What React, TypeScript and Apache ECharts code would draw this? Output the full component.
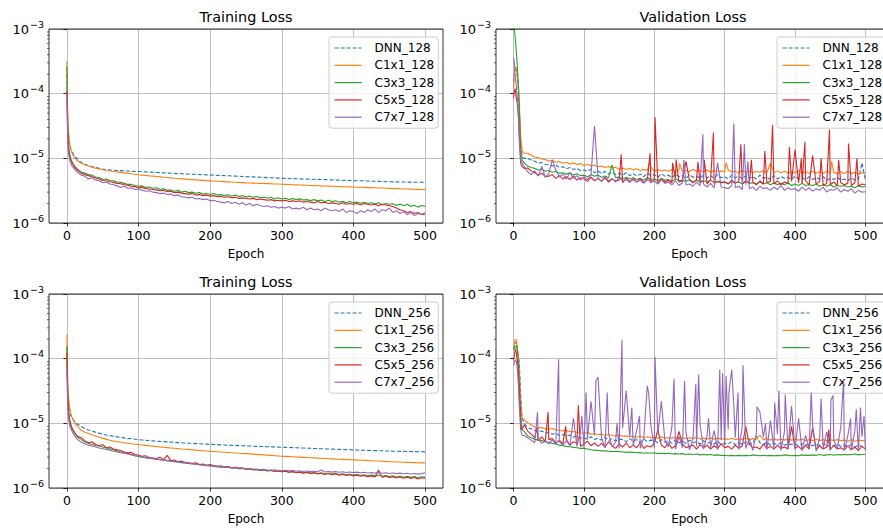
import React, { useEffect, useRef } from 'react';
import * as echarts from 'echarts';

// ---------- data (values in units of 1e-6) ----------
const EARLY_EPOCHS = [0, 1, 2, 3, 4, 5, 6, 7, 8, 10, 12, 15];
const EPOCHS = [...EARLY_EPOCHS, ...Array.from({ length: 97 }, (_, i) => 20 + 5 * i)];
const X_TICKS = [0, 100, 200, 300, 400, 500];
const MINOR_Y_TICKS = [2e-6, 3e-6, 4e-6, 5e-6, 6e-6, 7e-6, 8e-6, 9e-6, 2e-5, 3e-5, 4e-5, 5e-5, 6e-5, 7e-5, 8e-5, 9e-5, 2e-4, 3e-4, 4e-4, 5e-4, 6e-4, 7e-4, 8e-4, 9e-4];
const MODELS = ['DNN', 'C1x1', 'C3x3', 'C5x5', 'C7x7'];
const PANEL_TITLES = ['Training Loss', 'Validation Loss', 'Training Loss', 'Validation Loss'];
const PANEL_WIDTHS = ['128', '128', '256', '256'];

// Training loss, width 128
const TL_DNN = [200, 40, 25, 19, 16, 14.5, 13.5, 12.8, 12.2, 11.2, 10.5, 9.8,
  8.6, 8.1, 7.75, 7.45, 7.2, 7.0, 6.85, 6.72, 6.62, 6.55,
  6.5, 6.45, 6.4, 6.36, 6.32, 6.28, 6.25, 6.21, 6.17, 6.13,
  6.08, 6.04, 6.0, 5.96, 5.92, 5.88, 5.84, 5.8, 5.77, 5.74,
  5.71, 5.68, 5.64, 5.61, 5.58, 5.55, 5.52, 5.49, 5.46, 5.43,
  5.4, 5.37, 5.34, 5.31, 5.28, 5.25, 5.22, 5.19, 5.16, 5.13,
  5.1, 5.07, 5.04, 5.01, 4.98, 4.95, 4.92, 4.9, 4.88, 4.86,
  4.84, 4.82, 4.8, 4.78, 4.76, 4.74, 4.72, 4.7, 4.68, 4.66,
  4.64, 4.62, 4.6, 4.58, 4.56, 4.54, 4.53, 4.51, 4.49, 4.47,
  4.45, 4.43, 4.42, 4.4, 4.38, 4.36, 4.35, 4.33, 4.32, 4.31,
  4.3, 4.29, 4.28, 4.27, 4.27, 4.26, 4.25];
const TL_C1 = [320, 60, 29, 20, 16.5, 14.2, 13, 12.2, 11.5, 10.5, 9.8, 9.1,
  8.4, 7.95, 7.6, 7.3, 7.05, 6.85, 6.65, 6.5, 6.38, 6.27,
  6.17, 6.06, 5.96, 5.86, 5.77, 5.68, 5.58, 5.5, 5.43, 5.36,
  5.3, 5.24, 5.17, 5.1, 5.04, 4.98, 4.92, 4.87, 4.82, 4.77,
  4.72, 4.68, 4.64, 4.6, 4.56, 4.52, 4.48, 4.45, 4.42, 4.39,
  4.36, 4.33, 4.3, 4.27, 4.24, 4.21, 4.18, 4.16, 4.14, 4.12,
  4.1, 4.08, 4.06, 4.04, 4.02, 4.0, 3.97, 3.95, 3.93, 3.91,
  3.89, 3.87, 3.85, 3.83, 3.81, 3.79, 3.77, 3.75, 3.73, 3.72,
  3.7, 3.68, 3.67, 3.65, 3.64, 3.62, 3.6, 3.58, 3.57, 3.55,
  3.53, 3.52, 3.5, 3.48, 3.47, 3.45, 3.43, 3.41, 3.4, 3.38,
  3.36, 3.35, 3.34, 3.32, 3.31, 3.3, 3.28];
const TL_C3 = [265, 35, 18, 13.5, 11.5, 10.2, 9.5, 9.0, 8.5, 7.8, 7.3, 6.8,
  6.1, 5.95, 5.6, 5.5, 5.15, 5.05, 4.7, 4.8, 4.55, 4.5,
  4.3, 4.25, 4.1, 3.95, 3.95, 3.8, 3.7, 3.75, 3.55, 3.6,
  3.45, 3.5, 3.3, 3.4, 3.2, 3.25, 3.1, 3.2, 3.0, 3.1,
  2.95, 3.0, 2.88, 2.95, 2.8, 2.85, 2.75, 2.85, 2.7, 2.76,
  2.65, 2.74, 2.6, 2.7, 2.56, 2.66, 2.55, 2.6, 2.5, 2.56,
  2.45, 2.52, 2.42, 2.5, 2.36, 2.45, 2.35, 2.42, 2.3, 2.4,
  2.3, 2.36, 2.26, 2.3, 2.22, 2.3, 2.2, 2.26, 2.15, 2.25,
  2.15, 2.2, 2.1, 2.16, 2.06, 2.15, 2.05, 2.1, 2.02, 2.1,
  2.0, 2.06, 1.96, 2.05, 1.92, 2.0, 1.95, 1.98, 1.86, 1.96,
  1.85, 1.95, 1.8, 1.88, 1.76, 1.86, 1.8];
const TL_C5 = [110, 25, 15, 12, 10.5, 9.6, 9.0, 8.5, 8.1, 7.5, 7.0, 6.5,
  5.9, 5.6, 5.4, 5.2, 4.95, 4.8, 4.55, 4.5, 4.35, 4.25,
  4.1, 4.05, 3.9, 3.85, 3.7, 3.65, 3.5, 3.55, 3.4, 3.35,
  3.3, 3.25, 3.15, 3.2, 3.05, 3.1, 2.95, 3.0, 2.9, 2.85,
  2.8, 2.85, 2.7, 2.75, 2.65, 2.7, 2.6, 2.65, 2.55, 2.6,
  2.5, 2.55, 2.45, 2.5, 2.4, 2.45, 2.4, 2.35, 2.4, 2.3,
  2.35, 2.3, 2.25, 2.3, 2.2, 2.25, 2.2, 2.25, 2.15, 2.2,
  2.15, 2.2, 2.1, 2.15, 2.1, 2.05, 2.15, 2.05, 2.1, 2.0,
  2.05, 2.0, 1.95, 2.05, 1.95, 2.0, 1.95, 2.0, 1.9, 2.0,
  1.95, 1.9, 1.95, 1.85, 1.95, 1.9, 1.85, 1.8, 1.7, 1.6,
  1.55, 1.45, 1.5, 1.4, 1.45, 1.35, 1.35];
const TL_C7 = [100, 22, 13, 10.5, 9.3, 8.6, 8.1, 7.7, 7.4, 7.0, 6.5, 6.1,
  5.5, 5.3, 4.8, 5.0, 4.6, 4.5, 4.2, 4.3, 4.0, 3.9,
  3.75, 3.55, 3.7, 3.45, 3.5, 3.3, 3.35, 3.2, 3.1, 3.15,
  3.0, 2.95, 2.85, 2.9, 2.75, 2.8, 2.65, 2.7, 2.55, 2.5,
  2.45, 2.5, 2.35, 2.4, 2.3, 2.35, 2.2, 2.25, 2.15, 2.1,
  2.05, 2.15, 2.0, 2.1, 1.95, 2.05, 1.9, 2.0, 1.85, 1.95,
  1.85, 1.8, 1.85, 1.75, 1.8, 1.7, 1.75, 1.7, 1.8, 1.65,
  1.7, 1.65, 1.75, 1.6, 1.7, 1.6, 1.65, 1.55, 1.7, 1.6,
  1.55, 1.6, 1.5, 1.65, 1.45, 1.55, 1.5, 1.4, 1.55, 1.45,
  1.6, 1.5, 1.65, 1.45, 1.6, 1.55, 1.7, 1.45, 1.55, 1.4,
  1.5, 1.35, 1.45, 1.3, 1.4, 1.35, 1.45];

// Validation loss, width 128
const TR_DNN = [150, 200, 230, 240, 220, 190, 150, 100, 60, 18, 10.5, 10,
  10, 9.4, 9.0, 8.4, 8.6, 8.1, 8.0, 7.6, 7.9, 7.2,
  7.4, 6.9, 7.2, 6.7, 7.0, 6.5, 6.6, 6.3, 6.8, 6.0,
  6.4, 5.8, 6.3, 5.7, 6.1, 5.6, 5.9, 5.5, 6.0, 5.4,
  5.8, 5.3, 5.7, 5.2, 5.9, 5.4, 5.6, 5.1, 5.8, 5.3,
  5.5, 5.0, 5.7, 5.2, 5.4, 4.9, 5.6, 5.1, 5.3, 4.9,
  5.5, 5.0, 5.4, 4.9, 5.6, 5.0, 5.2, 4.8, 5.5, 5.0,
  5.3, 4.8, 5.4, 4.9, 5.2, 4.8, 5.5, 4.9, 5.1, 4.7,
  5.4, 4.8, 5.2, 4.9, 5.1, 4.7, 5.3, 4.8, 5.0, 4.7,
  5.2, 4.7, 5.0, 4.8, 5.2, 4.6, 4.9, 4.7, 5.1, 4.6,
  4.8, 4.5, 5.0, 4.6, 4.7, 8.5, 4.6];
const TR_C1 = [120, 200, 250, 260, 240, 220, 170, 120, 77, 23, 13, 12,
  12, 11.2, 10.5, 10.2, 9.8, 9.6, 9.0, 9.3, 8.7, 8.9,
  8.4, 8.7, 8.2, 8.5, 8.0, 8.3, 7.7, 8.1, 7.6, 7.9,
  7.4, 7.6, 7.2, 7.5, 7.0, 7.3, 6.8, 7.1, 6.7, 7.0,
  6.6, 6.9, 6.5, 6.8, 6.5, 7.4, 6.3, 6.7, 6.4, 6.6,
  6.3, 6.7, 6.2, 6.6, 6.3, 6.5, 6.2, 6.8, 6.3, 6.5,
  6.2, 6.6, 6.1, 6.5, 6.2, 6.4, 6.1, 6.6, 6.2, 6.3,
  6.0, 6.5, 6.1, 6.4, 6.0, 6.3, 6.1, 6.4, 6.0, 6.2,
  6.0, 6.4, 6.0, 6.3, 5.9, 6.2, 6.0, 6.5, 5.9, 6.2,
  5.9, 6.3, 5.9, 6.2, 5.8, 6.4, 5.9, 6.1, 5.8, 6.2,
  5.8, 6.3, 5.8, 6.1, 5.7, 6.0, 5.8];
const TR_C3 = [1100, 1000, 800, 600, 420, 300, 200, 120, 65, 14, 9.5, 8.5,
  7.6, 7.2, 7.0, 6.6, 6.8, 6.3, 6.5, 6.1, 6.3, 5.9,
  6.0, 5.7, 6.0, 5.5, 5.8, 5.4, 5.5, 5.2, 5.6, 5.3,
  5.5, 5.1, 5.3, 5.0, 7.9, 5.0, 5.2, 4.8, 5.1, 4.8,
  5.0, 4.7, 4.9, 4.6, 5.0, 4.7, 4.8, 4.5, 4.9, 4.6,
  4.7, 4.4, 4.8, 4.5, 4.6, 4.4, 4.7, 4.3, 4.6, 4.4,
  4.5, 4.3, 4.6, 4.2, 4.4, 4.3, 4.3, 4.1, 4.4, 4.2,
  4.3, 4.0, 4.4, 4.1, 4.2, 4.0, 4.3, 4.0, 4.2, 3.9,
  4.2, 3.9, 4.1, 3.9, 4.2, 3.8, 4.0, 3.8, 4.1, 3.8,
  3.9, 3.8, 4.0, 3.7, 3.9, 3.7, 3.9, 3.6, 3.8, 3.7,
  3.8, 3.6, 3.7, 3.5, 3.8, 3.6, 3.7];
const TR_C5 = [84, 110, 120, 100, 85, 74, 60, 40, 22, 8.5, 7.5, 7.0,
  7.1, 6.4, 6.0, 5.5, 5.9, 5.2, 5.3, 5.6, 4.9, 5.4,
  4.8, 5.2, 4.7, 5.3, 4.6, 5.0, 4.8, 4.4, 5.1, 4.5,
  4.9, 4.4, 5.0, 4.3, 4.8, 4.5, 4.6, 4.2, 4.9, 4.4,
  4.7, 4.3, 4.9, 4.2, 4.6, 4.4, 4.5, 4.1, 4.8, 4.3,
  4.6, 4.2, 4.8, 4.3, 4.5, 4.1, 4.6, 4.2, 4.7, 4.2,
  4.5, 4.0, 4.7, 4.1, 4.4, 4.2, 4.3, 4.0, 4.6, 4.1,
  4.4, 4.0, 4.5, 4.1, 4.3, 3.9, 4.5, 4.0, 4.2, 4.4,
  4.0, 4.5, 3.9, 4.3, 4.1, 4.4, 3.9, 4.2, 4.0, 4.5,
  3.9, 4.2, 4.0, 4.4, 3.8, 4.1, 3.9, 4.3, 3.8, 4.2,
  3.9, 4.1, 3.8, 4.2, 3.7, 4.0, 3.9];
const TR_C7 = [360, 300, 200, 160, 120, 95, 70, 45, 22, 9.5, 8.5, 7.5,
  6.2, 5.6, 6.4, 5.3, 7.5, 5.1, 5.8, 5.0, 6.6, 5.2,
  5.7, 4.8, 6.0, 4.9, 5.4, 4.6, 5.2, 4.7, 5.5, 4.5,
  5.0, 4.4, 5.3, 4.5, 4.9, 4.3, 5.2, 4.4, 4.7, 4.2,
  5.0, 4.3, 4.6, 4.1, 4.9, 4.2, 4.5, 4.0, 4.7, 4.1,
  4.3, 3.9, 4.5, 3.8, 4.2, 3.9, 4.0, 3.7, 4.3, 3.8,
  4.0, 3.6, 4.1, 3.5, 3.9, 3.6, 3.5, 3.4, 3.8, 3.5,
  3.7, 3.3, 3.9, 3.4, 3.6, 3.2, 3.7, 3.4, 3.5, 3.2,
  3.6, 3.3, 3.8, 3.2, 3.5, 3.3, 3.4, 3.1, 3.6, 3.2,
  3.5, 3.1, 3.4, 3.2, 3.6, 3.0, 3.3, 3.2, 3.5, 3.0,
  3.3, 3.1, 3.4, 2.9, 3.2, 3.0, 3.05];
const TR_C1_SPIKES = [[193, 8.5], [236, 8.3], [302, 8.6], [365, 8.4], [452, 9]];
const TR_C5_SPIKES = [[153, 11.5], [194, 12], [201, 43], [226, 8.5], [231, 9.6], [245, 9], [262, 8.8], [271, 9.5], [284, 25], [323, 16.5], [338, 9.5], [357, 13], [368, 33], [392, 15], [400, 13.5], [409, 10], [414, 18], [425, 11], [437, 10], [449, 28], [462, 9.5], [476, 17], [488, 10]];
const TR_C7_SPIKES = [[55, 9.5], [113, 16], [115, 32], [242, 9.5], [269, 23.5], [290, 8.5], [313, 34.5], [328, 16.5], [333, 9]];

// Training loss, width 256
const BL_DNN = [150, 35, 22, 17, 15, 13.5, 12.8, 12.2, 11.7, 11, 10.4, 9.7,
  8.9, 8.3, 7.9, 7.6, 7.3, 7.05, 6.8, 6.6, 6.45, 6.3,
  6.17, 6.05, 5.95, 5.85, 5.76, 5.68, 5.6, 5.53, 5.47, 5.41,
  5.36, 5.31, 5.26, 5.21, 5.16, 5.12, 5.08, 5.04, 5.0, 4.96,
  4.93, 4.9, 4.86, 4.83, 4.8, 4.77, 4.74, 4.71, 4.68, 4.65,
  4.62, 4.6, 4.57, 4.55, 4.52, 4.5, 4.47, 4.45, 4.43, 4.41,
  4.39, 4.37, 4.35, 4.33, 4.31, 4.29, 4.27, 4.25, 4.23, 4.21,
  4.19, 4.17, 4.15, 4.13, 4.11, 4.09, 4.07, 4.05, 4.03, 4.01,
  3.99, 3.97, 3.96, 3.94, 3.92, 3.9, 3.89, 3.87, 3.85, 3.84,
  3.82, 3.8, 3.79, 3.77, 3.76, 3.74, 3.73, 3.71, 3.7, 3.69,
  3.68, 3.67, 3.66, 3.65, 3.64, 3.63, 3.62];
const BL_C1 = [235, 55, 29, 21, 17, 15, 13.5, 12.5, 11.8, 10.6, 9.8, 8.9,
  7.8, 7.3, 6.95, 6.65, 6.35, 6.1, 5.85, 5.65, 5.48, 5.32,
  5.2, 5.1, 5.0, 4.92, 4.84, 4.77, 4.7, 4.63, 4.56, 4.5,
  4.44, 4.38, 4.32, 4.26, 4.21, 4.16, 4.11, 4.06, 4.01, 3.97,
  3.93, 3.89, 3.85, 3.81, 3.77, 3.73, 3.69, 3.66, 3.63, 3.6,
  3.57, 3.54, 3.51, 3.48, 3.45, 3.42, 3.4, 3.37, 3.34, 3.31,
  3.28, 3.25, 3.22, 3.19, 3.16, 3.13, 3.1, 3.08, 3.06, 3.04,
  3.02, 3.0, 2.98, 2.96, 2.94, 2.92, 2.9, 2.88, 2.86, 2.84,
  2.82, 2.8, 2.79, 2.77, 2.75, 2.73, 2.72, 2.7, 2.68, 2.67,
  2.65, 2.64, 2.62, 2.61, 2.59, 2.58, 2.56, 2.55, 2.53, 2.52,
  2.5, 2.49, 2.48, 2.47, 2.46, 2.45, 2.44];
const BL_C3 = [155, 30, 17, 13, 11, 9.6, 8.9, 8.3, 7.9, 7.2, 6.7, 6.1,
  5.6, 5.2, 4.9, 4.75, 4.55, 4.45, 4.3, 4.15, 4.05, 3.9,
  3.75, 3.6, 3.5, 3.4, 3.3, 3.15, 3.05, 3.0, 2.95, 2.9,
  2.85, 2.8, 2.75, 2.72, 2.65, 2.6, 2.55, 2.52, 2.45, 2.45,
  2.4, 2.35, 2.33, 2.3, 2.25, 2.22, 2.2, 2.18, 2.12, 2.1,
  2.08, 2.1, 2.02, 2.05, 1.98, 2.0, 1.95, 1.97, 1.9, 1.92,
  1.88, 1.9, 1.84, 1.86, 1.8, 1.83, 1.78, 1.82, 1.75, 1.79,
  1.74, 1.77, 1.72, 1.75, 1.7, 1.73, 1.68, 1.7, 1.65, 1.69,
  1.64, 1.67, 1.62, 1.66, 1.6, 1.63, 1.58, 1.62, 1.57, 1.6,
  1.55, 1.6, 1.54, 1.58, 1.52, 1.56, 1.5, 1.55, 1.48, 1.53,
  1.47, 1.52, 1.46, 1.5, 1.44, 1.49, 1.47];
const BL_C5 = [125, 28, 16, 12.5, 11, 10, 9.3, 8.6, 8.2, 7.5, 6.9, 6.3,
  6.0, 5.4, 5.0, 5.2, 4.7, 4.5, 4.7, 4.2, 4.3, 4.0,
  3.9, 3.8, 3.6, 3.5, 3.55, 3.3, 3.2, 3.1, 3.15, 2.95,
  2.9, 2.85, 3.0, 2.75, 3.2, 2.65, 2.7, 2.55, 2.6, 2.5,
  2.45, 2.4, 2.45, 2.3, 2.35, 2.25, 2.3, 2.2, 2.15, 2.2,
  2.1, 2.15, 2.05, 2.1, 2.0, 2.05, 1.95, 2.0, 1.92, 1.95,
  1.88, 1.92, 1.85, 1.9, 1.8, 1.85, 1.78, 1.82, 1.75, 1.8,
  1.72, 1.76, 1.7, 1.74, 1.68, 1.72, 1.65, 1.7, 1.62, 1.68,
  1.6, 1.66, 1.58, 1.62, 1.56, 1.6, 1.54, 1.58, 1.52, 1.56,
  1.5, 1.54, 1.48, 1.9, 1.46, 1.52, 1.45, 1.5, 1.43, 1.48,
  1.42, 1.47, 1.4, 1.45, 1.38, 1.44, 1.42];
const BL_C7 = [70, 20, 13, 10.5, 9.3, 8.5, 8, 7.6, 7.2, 6.6, 6.1, 5.6,
  5.1, 4.85, 4.6, 4.45, 4.3, 4.15, 4.05, 3.95, 3.85, 3.7,
  3.6, 3.5, 3.45, 3.35, 3.25, 3.15, 3.1, 3.05, 2.95, 2.9,
  2.85, 2.8, 2.75, 2.7, 2.65, 2.62, 2.58, 2.52, 2.5, 2.45,
  2.4, 2.38, 2.35, 2.3, 2.28, 2.25, 2.22, 2.2, 2.18, 2.15,
  2.12, 2.1, 2.08, 2.05, 2.05, 2.02, 2.0, 1.98, 1.97, 1.95,
  1.93, 1.95, 1.9, 1.88, 1.92, 1.87, 1.85, 1.88, 1.84, 1.86,
  1.82, 1.85, 1.8, 1.83, 1.79, 1.82, 1.78, 1.9, 1.77, 1.8,
  1.76, 1.79, 1.75, 1.78, 1.74, 1.77, 1.73, 1.76, 1.72, 1.75,
  1.71, 1.74, 1.7, 1.73, 1.69, 1.72, 1.68, 1.71, 1.67, 1.7,
  1.66, 1.69, 1.65, 1.68, 1.64, 1.67, 1.72];

// Validation loss, width 256
const BR_DNN = [140, 155, 170, 180, 175, 150, 120, 100, 90, 30, 12, 10,
  8.6, 8.2, 7.8, 7.4, 7.6, 7.1, 7.2, 6.8, 7.0, 6.5,
  6.7, 6.3, 6.6, 6.1, 6.4, 5.9, 6.0, 5.7, 6.2, 5.6,
  5.9, 5.5, 6.1, 5.4, 5.8, 5.3, 5.7, 5.6, 5.2, 5.8,
  5.3, 5.6, 5.1, 5.7, 5.2, 5.5, 5.4, 5.0, 5.6, 5.1,
  5.4, 4.9, 5.6, 5.0, 5.3, 4.9, 5.5, 5.0, 5.2, 4.8,
  5.4, 4.9, 5.1, 4.8, 5.3, 4.7, 4.9, 4.8, 5.2, 4.7,
  5.0, 4.7, 5.2, 4.8, 4.9, 6.4, 5.0, 4.7, 5.1, 4.6,
  4.9, 4.7, 5.0, 4.6, 4.8, 4.7, 4.8, 4.5, 4.9, 4.6,
  4.8, 4.5, 4.7, 4.6, 4.9, 4.4, 4.6, 4.5, 4.8, 4.4,
  4.6, 4.4, 4.7, 4.3, 4.6, 4.4, 4.5];
const BR_C1 = [150, 170, 190, 200, 185, 160, 130, 100, 70, 22, 12, 11.5,
  10.2, 9.4, 8.8, 8.5, 8.6, 8.2, 8.1, 8.3, 7.9, 7.8,
  7.6, 7.8, 7.4, 7.5, 7.3, 7.1, 7.0, 7.2, 6.8, 6.9,
  6.7, 6.8, 6.5, 6.7, 6.5, 6.4, 6.6, 6.3, 6.4, 6.2,
  6.3, 6.1, 6.3, 6.0, 6.2, 6.0, 6.1, 5.9, 6.2, 5.9,
  6.0, 5.9, 6.1, 5.8, 6.0, 5.8, 6.0, 5.8, 6.1, 5.7,
  5.9, 5.7, 6.0, 5.7, 5.9, 5.7, 5.8, 5.6, 5.9, 5.6,
  5.8, 5.6, 5.9, 5.6, 5.8, 5.6, 6.6, 5.6, 5.8, 5.5,
  5.8, 5.5, 5.7, 5.5, 5.8, 5.5, 5.7, 5.5, 5.7, 5.4,
  5.6, 5.4, 5.7, 5.4, 5.6, 5.4, 5.6, 5.4, 5.6, 5.4,
  5.5, 5.3, 5.6, 5.3, 5.5, 5.4, 5.4];
const BR_C3 = [135, 140, 150, 155, 160, 150, 120, 80, 45, 14, 8, 7.5,
  6.4, 6.0, 5.7, 5.5, 5.4, 5.2, 5.1, 4.9, 4.8, 4.6,
  4.5, 4.4, 4.35, 4.25, 4.2, 4.1, 4.1, 4.0, 3.9, 3.85,
  3.8, 3.75, 3.75, 3.7, 3.65, 3.7, 3.65, 3.6, 3.55, 3.6,
  3.55, 3.5, 3.55, 3.45, 3.5, 3.45, 3.5, 3.4, 3.45, 3.4,
  3.45, 3.35, 3.4, 3.35, 3.4, 3.3, 3.35, 3.3, 3.35, 3.25,
  3.3, 3.25, 3.3, 3.2, 3.25, 3.2, 3.2, 3.15, 3.2, 3.15,
  3.2, 3.15, 3.2, 3.15, 3.25, 3.2, 3.15, 3.2, 3.15, 3.2,
  3.15, 3.2, 3.15, 3.25, 3.2, 3.15, 3.2, 3.15, 3.25, 3.2,
  3.2, 3.25, 3.2, 3.3, 3.2, 3.25, 3.3, 3.2, 3.3, 3.25,
  3.3, 3.25, 3.3, 3.35, 3.25, 3.3, 3.3];
const BR_C5 = [94, 110, 130, 140, 120, 100, 80, 55, 30, 10, 8, 9.5,
  7.6, 6.8, 6.0, 5.4, 6.2, 5.2, 5.6, 5.8, 4.9, 5.5,
  4.8, 5.6, 4.6, 5.2, 4.9, 4.4, 4.8, 5.3, 4.5, 5.0,
  4.4, 4.9, 4.3, 5.2, 4.5, 4.1, 4.8, 4.3, 5.0, 4.2,
  4.6, 4.2, 5.1, 4.1, 4.5, 4.3, 4.9, 4.0, 4.6, 4.2,
  5.0, 4.1, 4.5, 4.0, 4.8, 4.2, 4.4, 4.6, 4.0, 4.7,
  4.2, 4.6, 4.0, 4.5, 4.1, 4.8, 4.2, 4.4, 4.0, 4.6,
  4.1, 4.5, 4.0, 4.7, 4.2, 4.3, 4.0, 4.8, 4.1, 4.4,
  4.0, 4.6, 4.1, 4.3, 4.0, 4.5, 4.1, 4.4, 3.9, 4.6,
  4.0, 4.4, 3.9, 4.5, 4.0, 4.3, 3.9, 4.6, 4.0, 4.2,
  3.9, 4.5, 3.9, 4.3, 3.8, 4.4, 4.0];
const BR_C7 = [79, 85, 95, 94, 90, 75, 55, 35, 20, 8, 6.5, 6.5,
  6.0, 5.5, 5.0, 5.8, 4.9, 5.3, 4.8, 5.6, 4.7, 5.2,
  4.6, 5.4, 4.5, 6.2, 4.4, 7.5, 4.2, 5.8, 4.3, 6.5,
  4.1, 5.9, 4.2, 7.0, 4.3, 5.2, 4.1, 8.5, 4.0, 6.2,
  4.5, 7.8, 4.1, 6.0, 4.0, 9.5, 4.2, 6.8, 4.0, 5.5,
  4.3, 8.8, 4.0, 6.3, 4.2, 7.2, 3.9, 5.8, 4.4, 9.5,
  4.0, 6.5, 4.2, 7.8, 3.9, 5.5, 4.5, 8.0, 4.0, 6.0,
  3.9, 9.0, 4.1, 5.8, 3.8, 7.0, 4.2, 6.2, 3.9, 8.5,
  4.0, 6.8, 3.8, 7.5, 4.1, 5.9, 3.9, 8.0, 3.8, 6.5,
  4.0, 9.2, 3.7, 6.0, 4.1, 7.4, 3.8, 5.6, 4.0, 8.8,
  3.8, 6.4, 3.9, 7.6, 3.7, 6.2, 3.8];
const BR_C5_SPIKES = [[33, 8.5], [49, 15], [74, 9], [92, 19], [205, 8], [235, 7.5], [330, 9], [395, 9], [425, 8.5], [448, 8]];
const BR_C7_SPIKES = [[34, 15], [64, 98], [85, 12], [97, 13], [103, 30], [110, 22], [117, 45], [120, 52], [133, 30], [147, 10], [154, 195], [160, 32], [168, 17.5], [179, 13], [190, 38], [192, 29], [201, 107], [210, 22], [228, 49], [243, 45], [259, 41], [263, 57], [277, 12], [293, 68], [297, 60], [302, 54], [306, 30], [310, 68], [313, 18.5], [319, 30], [326, 79], [346, 18], [350, 15], [358, 10], [365, 11], [371, 21], [377, 32], [386, 28], [395, 18.5], [405, 12], [423, 30], [437, 24], [451, 23], [454, 27], [469, 48], [479, 12], [487, 16.5], [493, 17.5], [498, 13]];

const PANEL_VALUES = [
  [TL_DNN, TL_C1, TL_C3, TL_C5, TL_C7],
  [TR_DNN, TR_C1, TR_C3, TR_C5, TR_C7],
  [BL_DNN, BL_C1, BL_C3, BL_C5, BL_C7],
  [BR_DNN, BR_C1, BR_C3, BR_C5, BR_C7],
];
const PANEL_SPIKES = [
  [[], [], [], [], []],
  [[], TR_C1_SPIKES, [], TR_C5_SPIKES, TR_C7_SPIKES],
  [[], [], [], [], []],
  [[], [], [], BR_C5_SPIKES, BR_C7_SPIKES],
];

// ---------- layout / style ----------
const FONT = 'DejaVu Sans';
const COLORS = ['#1f77b4', '#ff7f0e', '#2ca02c', '#d62728', '#9467bd'];
const GRID_W = 394;
const GRID_H = 194;
const GRID_POS = [
  { left: 49, top: 29 },
  { left: 496, top: 29 },
  { left: 49, top: 294 },
  { left: 496, top: 294 },
];
const LEGEND_POS = [
  { left: 329, top: 37 },
  { left: 777, top: 37 },
  { left: 329, top: 302 },
  { left: 777, top: 302 },
];
const X_MIN = -25;
const X_MAX = 525;

function buildData(values: number[], spikes: number[][]) {
  const m = new Map<number, number>();
  values.forEach((v, i) => {
    if (i < EPOCHS.length && v != null) m.set(EPOCHS[i], v);
  });
  spikes.forEach(([e, v]) => m.set(e, v));
  return [...m.entries()].sort((a, b) => a[0] - b[0]).map(([e, v]) => [e, v * 1e-6]);
}

function buildOption() {
  const grid: any[] = [];
  const xAxis: any[] = [];
  const yAxis: any[] = [];
  const series: any[] = [];
  const legend: any[] = [];
  const graphic: any[] = [];

  GRID_POS.forEach((p, gi) => {
    grid.push({ left: p.left, top: p.top, width: GRID_W, height: GRID_H, show: false, containLabel: false });
    xAxis.push({
      type: 'value', gridIndex: gi, min: X_MIN, max: X_MAX,
      axisLine: { show: false, onZero: false },
      axisTick: { show: true, length: 3.5, lineStyle: { color: '#000', width: 0.8 }, customValues: X_TICKS },
      axisLabel: { customValues: X_TICKS, margin: 6, fontSize: 12.5, fontFamily: FONT, color: '#000' },
      splitLine: { show: true, lineStyle: { color: '#b0b0b0', width: 0.8 } },
      name: 'Epoch', nameLocation: 'middle', nameGap: 25,
      nameTextStyle: { fontSize: 12, fontFamily: FONT, color: '#000' },
    });
    yAxis.push({
      type: 'log', logBase: 10, gridIndex: gi, min: 1e-6, max: 1e-3,
      axisLine: { show: false },
      axisTick: { show: true, length: 3.5, lineStyle: { color: '#000', width: 0.8 } },
      axisLabel: {
        margin: 5,
        formatter: (v: number) => {
          const e = Math.round(Math.log10(v));
          return `{b|10}{e|${e < 0 ? '\u2212' : ''}${Math.abs(e)}}`;
        },
        rich: {
          b: { fontSize: 13, fontFamily: FONT, color: '#000' },
          e: { fontSize: 9.5, fontFamily: FONT, color: '#000', padding: [0, 0, 10, 1] },
        },
      },
      splitLine: { show: true, lineStyle: { color: '#b0b0b0', width: 0.8 } },
    });

    const names = MODELS.map((m) => `${m}_${PANEL_WIDTHS[gi]}`);
    names.forEach((name, si) => {
      series.push({
        type: 'line', name, xAxisIndex: gi, yAxisIndex: gi,
        data: buildData(PANEL_VALUES[gi][si], PANEL_SPIKES[gi][si]),
        symbol: 'none', showSymbol: false, clip: true, silent: true,
        color: COLORS[si],
        lineStyle: { color: COLORS[si], width: 1.1, type: si === 0 ? [4, 2] : 'solid' },
        z: 2 + si,
      });
    });
    // minor ticks on log axis
    series.push({
      type: 'custom', xAxisIndex: gi, yAxisIndex: gi, silent: true, clip: false,
      data: MINOR_Y_TICKS.map((v) => [X_MIN, v]),
      renderItem: (_params: any, api: any) => {
        const pt = api.coord([api.value(0), api.value(1)]);
        return {
          type: 'line',
          shape: { x1: pt[0] - 2, y1: pt[1], x2: pt[0], y2: pt[1] },
          style: { stroke: '#000', lineWidth: 0.6 },
        };
      },
    });

    legend.push({
      data: names, left: LEGEND_POS[gi].left, top: LEGEND_POS[gi].top,
      orient: 'vertical', itemWidth: 27, itemHeight: 14, itemGap: 5.3,
      padding: [5, 4, 5, 5], backgroundColor: 'rgba(255,255,255,0.8)',
      borderColor: '#cccccc', borderWidth: 1, borderRadius: 3,
      selectedMode: false,
      itemStyle: { opacity: 0, borderWidth: 0 },
      lineStyle: { width: 1.2 },
      textStyle: { fontSize: 12, fontFamily: FONT, color: '#000', padding: [0, 0, 0, 8] },
    });

    graphic.push({
      type: 'rect', z: 100, silent: true,
      shape: { x: p.left, y: p.top, width: GRID_W, height: GRID_H },
      style: { fill: 'none', stroke: '#000', lineWidth: 0.8 },
    });
    graphic.push({
      type: 'text', z: 100, silent: true,
      x: p.left + GRID_W / 2, y: p.top - 12,
      style: { text: PANEL_TITLES[gi], fontSize: 14.4, fontFamily: FONT, fill: '#000', align: 'center', verticalAlign: 'middle' },
    });
  });

  return {
    animation: false,
    backgroundColor: '#fff',
    grid, xAxis, yAxis, series, legend, graphic,
  };
}

export default function App() {
  const ref = useRef<HTMLDivElement>(null);
  useEffect(() => {
    if (!ref.current) return;
    const chart = echarts.init(ref.current, undefined, { renderer: 'svg' });
    chart.setOption(buildOption() as any);
    return () => chart.dispose();
  }, []);
  return <div ref={ref} style={{ position: 'absolute', left: 0, top: 0, width: 883, height: 530 }} />;
}
